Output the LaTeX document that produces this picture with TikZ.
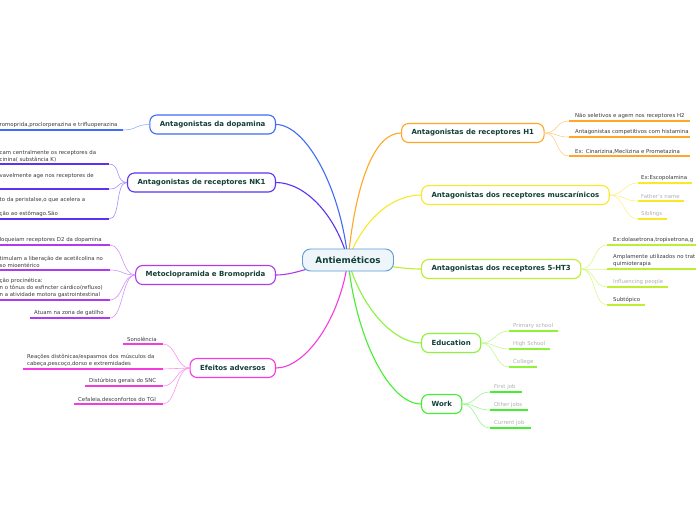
\documentclass[tikz,border=0pt]{standalone}
\usepackage{fontspec}
\setmainfont{DejaVu Sans}
\usepackage{xcolor}
\usetikzlibrary{positioning,backgrounds}

\definecolor{ink}{HTML}{123F36}
\definecolor{rootline}{HTML}{5B9BD5}
\definecolor{rootfill}{HTML}{EEF5FB}
\definecolor{cDopa}{HTML}{3F6BF5}
\definecolor{cNK}{HTML}{5B33F0}
\definecolor{cMeto}{HTML}{B03AF0}
\definecolor{cEfe}{HTML}{F53AE0}
\definecolor{cHone}{HTML}{FFA826}
\definecolor{cMus}{HTML}{F8E82A}
\definecolor{cHT}{HTML}{BDEE32}
\definecolor{cEdu}{HTML}{8CF23A}
\definecolor{cWork}{HTML}{45EE30}
\definecolor{notegray}{HTML}{3A3A3A}
\definecolor{ghostgray}{HTML}{B0B0B0}

\begin{document}
\begin{tikzpicture}[x=1pt, y=-1pt,
    root/.style={draw=rootline, line width=0.9pt, fill=rootfill, rounded corners=8pt, minimum width=91pt, minimum height=22pt, font=\fontsize{8.8}{10}\selectfont\bfseries, text=ink},
    topic/.style={draw=#1, line width=1.1pt, fill=white, rounded corners=7pt, minimum height=19pt, inner xsep=10pt, font=\fontsize{7}{8}\selectfont\bfseries, text=ink},
    link/.style={line width=1.1pt, draw=#1},
    twig/.style={line width=0.6pt, draw=#1!55},
    bar/.style={line width=1.7pt, draw=#1},
    note/.style={font=\fontsize{5.4}{7}\selectfont, text=notegray, inner sep=0pt, anchor=south west, align=left},
    ghost/.style={note, text=ghostgray}
]
    \useasboundingbox (0,0) rectangle (696,520);

    % Central topic
    \node[root] (ctr) at (348,260) {Antieméticos};

    % Main topics, left side
    \node[topic=cDopa, anchor=east] (dopa) at (276,124.5) {Antagonistas da dopamina};
    \node[topic=cNK,   anchor=east] (nk1)  at (276,182.5) {Antagonistas de receptores NK1};
    \node[topic=cMeto, anchor=east] (meto) at (276,275) {Metoclopramida e Bromoprida};
    \node[topic=cEfe,  anchor=east] (efe)  at (276,368) {Efeitos adversos};

    % Main topics, right side
    \node[topic=cHone, anchor=west] (h1)   at (401,133) {Antagonistas de receptores H1};
    \node[topic=cMus,  anchor=west] (musc) at (421,195) {Antagonistas dos receptores muscarínicos};
    \node[topic=cHT,   anchor=west] (ht3)  at (421,269) {Antagonistas dos receptores 5-HT3};
    \node[topic=cEdu,  anchor=west] (edu)  at (421,343) {Education};
    \node[topic=cWork, anchor=west] (work) at (421,404) {Work};

    % Links from the central topic
    \begin{scope}[on background layer]
        \draw[link=cDopa] (ctr.center) .. controls (340,185) and (305,124.5) .. (dopa.east);
        \draw[link=cNK]   (ctr.center) .. controls (336,215) and (305,182.5) .. (nk1.east);
        \draw[link=cMeto] (ctr.center) .. controls (320,262) and (298,275) .. (meto.east);
        \draw[link=cEfe]  (ctr.center) .. controls (340,320) and (305,368) .. (efe.east);
        \draw[link=cHone] (ctr.center) .. controls (356,180) and (375,133) .. (h1.west);
        \draw[link=cMus]  (ctr.center) .. controls (365,215) and (395,195) .. (musc.west);
        \draw[link=cHT]   (ctr.center) .. controls (385,266) and (405,269) .. (ht3.west);
        \draw[link=cEdu]  (ctr.center) .. controls (362,310) and (395,343) .. (edu.west);
        \draw[link=cWork] (ctr.center) .. controls (356,340) and (390,404) .. (work.west);
    \end{scope}

    % Leaves of H1
    \coordinate (h1a) at (569,121); \coordinate (h1b) at (569,137); \coordinate (h1c) at (569,156);
    \foreach \c in {h1a,h1b,h1c} {
        \draw[twig=cHone] (h1.east) .. controls +(14,0) and +(-14,0) .. (\c);
        \draw[bar=cHone] (\c) -- ++(121,0);
    }
    \node[note] (h1at) at (575,119) {Não seletivos e agem nos receptores H2};
    \node[note] (h1bt) at (575,135) {Antagonistas competitivos com histamina};
    \node[note] (h1ct) at (575,154) {Ex: Cinarizina,Meclizina e Prometazina};

    % Leaves of muscarinic
    \coordinate (mua) at (638,183); \coordinate (mub) at (638,201); \coordinate (muc) at (638,219);
    \foreach \c in {mua,mub,muc}
        \draw[twig=cMus] (musc.east) .. controls +(14,0) and +(-14,0) .. (\c);
    \draw[bar=cMus] (mua) -- (692,183);
    \draw[bar=cMus] (mub) -- (684,201);
    \draw[bar=cMus] (muc) -- (667,219);
    \node[note]  (muat) at (641,181) {Ex:Escopolamina};
    \node[ghost] (mubt) at (641,199) {Father's name};
    \node[ghost] (muct) at (641,217) {Siblings};

    % Leaves of 5-HT3
    \coordinate (hta) at (607,245); \coordinate (htb) at (607,269); \coordinate (htc) at (607,287); \coordinate (htd) at (607,305);
    \foreach \c in {hta,htb,htc,htd}
        \draw[twig=cHT] (ht3.east) .. controls +(14,0) and +(-14,0) .. (\c);
    \draw[bar=cHT] (hta) -- (700,245);
    \draw[bar=cHT] (htb) -- (700,269);
    \draw[bar=cHT] (htc) -- (668,287);
    \draw[bar=cHT] (htd) -- (645,305);
    \node[note]  (htat) at (613,243) {Ex:dolasetrona,tropisetrona,g};
    \node[note]  (htbt) at (613,267) {Amplamente utilizados no trat\\quimioterapia};
    \node[ghost] (htct) at (613,285) {Influencing people};
    \node[note]  (htdt) at (613,303) {Subtópico};

    % Leaves of Education
    \coordinate (eda) at (509,331); \coordinate (edb) at (509,349); \coordinate (edc) at (509,367);
    \foreach \c in {eda,edb,edc}
        \draw[twig=cEdu] (edu.east) .. controls +(14,0) and +(-14,0) .. (\c);
    \draw[bar=cEdu] (eda) -- (558,331);
    \draw[bar=cEdu] (edb) -- (550,349);
    \draw[bar=cEdu] (edc) -- (537,367);
    \node[ghost] (edat) at (513,329) {Primary school};
    \node[ghost] (edbt) at (513,347) {High School};
    \node[ghost] (edct) at (513,365) {College};

    % Leaves of Work
    \coordinate (wka) at (490,392); \coordinate (wkb) at (490,410); \coordinate (wkc) at (490,428);
    \foreach \c in {wka,wkb,wkc}
        \draw[twig=cWork] (work.east) .. controls +(14,0) and +(-14,0) .. (\c);
    \draw[bar=cWork] (wka) -- (522,392);
    \draw[bar=cWork] (wkb) -- (528,410);
    \draw[bar=cWork] (wkc) -- (531,428);
    \node[ghost] (wkat) at (494,390) {First job};
    \node[ghost] (wkbt) at (494,408) {Other jobs};
    \node[ghost] (wkct) at (494,426) {Current job};

    % Leaves of dopamina
    \coordinate (dpa) at (123,130);
    \draw[twig=cDopa] (dopa.west) .. controls +(-14,0) and +(14,0) .. (dpa);
    \draw[bar=cDopa] (dpa) -- (-5,130);
    \node[note] (dpat) at (-0.5,128) {romoprida,proclorperazina e trifluoperazina};

    % Leaves of NK1
    \coordinate (nka) at (109,164); \coordinate (nkb) at (109,189); \coordinate (nkc) at (109,219);
    \foreach \c in {nka,nkb,nkc} {
        \draw[twig=cNK] (nk1.west) .. controls +(-12,0) and +(12,0) .. (\c);
        \draw[bar=cNK] (\c) -- ++(-115,0);
    }
    \node[note] (nkat) at (-0.5,162) {cam centralmente os receptores da\\cinina( substância K)};
    \node[note] (nkbt) at (-0.5,179) {vavelmente age nos receptores de};
    \node[note] (nkct) at (-0.5,217) {to da peristalse,o que acelera a\\[7pt]ção ao estômago.São};

    % Leaves of Metoclopramida
    \coordinate (mta) at (110,245); \coordinate (mtb) at (110,270); \coordinate (mtc) at (110,300); \coordinate (mtd) at (110,318);
    \foreach \c in {mta,mtb,mtc,mtd}
        \draw[twig=cMeto] (meto.west) .. controls +(-13,0) and +(13,0) .. (\c);
    \draw[bar=cMeto] (mta) -- (-5,245);
    \draw[bar=cMeto] (mtb) -- (-5,270);
    \draw[bar=cMeto] (mtc) -- (-5,300);
    \draw[bar=cMeto] (mtd) -- (30,318);
    \node[note] (mtat) at (-0.5,243) {loqueiam receptores D2 da dopamina};
    \node[note] (mtbt) at (-0.5,268) {timulam a liberação de acetilcolina no\\so mioentérico};
    \node[note] (mtct) at (-0.5,298) {ção procinética:\\n o tônus do esfincter cárdico(refluxo)\\n a atividade motora gastrointestinal};
    \node[note] (mtdt) at (34,316) {Atuam na zona de gatilho};

    % Leaves of Efeitos adversos
    \coordinate (efa) at (163,344); \coordinate (efb) at (163,369); \coordinate (efc) at (163,386); \coordinate (efd) at (163,404);
    \foreach \c in {efa,efb,efc,efd}
        \draw[twig=cEfe] (efe.west) .. controls +(-13,0) and +(13,0) .. (\c);
    \draw[bar=cEfe] (efa) -- (123,344);
    \draw[bar=cEfe] (efb) -- (23,369);
    \draw[bar=cEfe] (efc) -- (85,386);
    \draw[bar=cEfe] (efd) -- (74,404);
    \node[note] (efat) at (127,342) {Sonolência};
    \node[note] (efbt) at (27,367) {Reações distônicas/espasmos dos músculos da\\cabeça,pescoço,dorso e extremidades};
    \node[note] (efct) at (89,384) {Distúrbios gerais do SNC};
    \node[note] (efdt) at (78,402) {Cefaleia,desconfortos do TGI};
\end{tikzpicture}
\end{document}
